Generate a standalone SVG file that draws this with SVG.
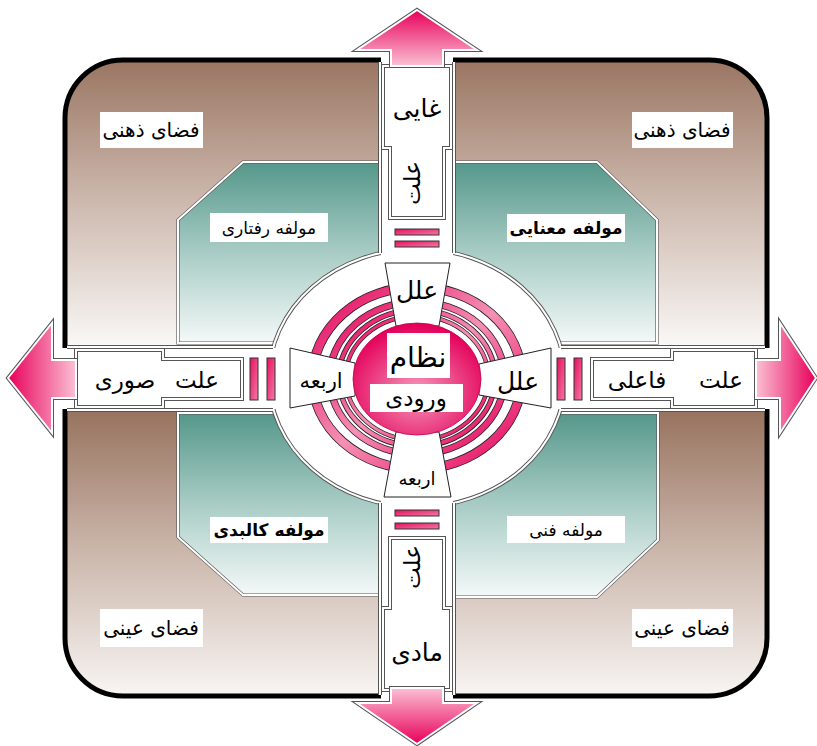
<svg xmlns="http://www.w3.org/2000/svg" width="817" height="746" viewBox="0 0 817 746">
<defs>
<style>
.t{font-family:"DejaVu Sans","Noto Sans",sans-serif;fill:#000;text-anchor:middle}
.lb{fill:#fff}
.dbl{fill:none;stroke:#555;stroke-width:4}
.dblw{fill:none;stroke:#fff;stroke-width:2}
.trap{fill:#fff;stroke:#222;stroke-width:1}
.bar{fill:url(#barG);stroke:#333;stroke-width:1}
.ringO{fill:none;stroke:#222}
.ringI{fill:none;stroke:url(#ringG)}
</style>
<linearGradient id="brown" x1="0" y1="0" x2="0" y2="1">
<stop offset="0" stop-color="#98735f"/><stop offset="0.45" stop-color="#c8b2a6"/><stop offset="1" stop-color="#faf8f7"/>
</linearGradient>
<linearGradient id="teal" x1="0" y1="0" x2="0" y2="1">
<stop offset="0" stop-color="#55978a"/><stop offset="0.5" stop-color="#a8ccc5"/><stop offset="1" stop-color="#f4f9f8"/>
</linearGradient>
<linearGradient id="aUp" x1="0" y1="0" x2="0" y2="1"><stop offset="0" stop-color="#e8005a"/><stop offset="1" stop-color="#fbc0d4"/></linearGradient>
<linearGradient id="aDown" x1="0" y1="0" x2="0" y2="1"><stop offset="0" stop-color="#fbc0d4"/><stop offset="1" stop-color="#e8005a"/></linearGradient>
<linearGradient id="aLeft" x1="0" y1="0" x2="1" y2="0"><stop offset="0" stop-color="#e8005a"/><stop offset="1" stop-color="#fbc0d4"/></linearGradient>
<linearGradient id="aRight" x1="0" y1="0" x2="1" y2="0"><stop offset="0" stop-color="#fbc0d4"/><stop offset="1" stop-color="#e8005a"/></linearGradient>
<linearGradient id="barG" x1="0" y1="0" x2="1" y2="1"><stop offset="0" stop-color="#e8105f"/><stop offset="1" stop-color="#f27aa6"/></linearGradient>
<linearGradient id="ringG" x1="0" y1="0" x2="1" y2="1"><stop offset="0" stop-color="#e4005a"/><stop offset="0.5" stop-color="#f590b4"/><stop offset="1" stop-color="#e4005a"/></linearGradient>
<radialGradient id="ballG" cx="0.5" cy="0.62" r="0.6"><stop offset="0" stop-color="#f59abc"/><stop offset="1" stop-color="#e4005a"/></radialGradient>
<clipPath id="outerClip"><rect x="65" y="60" width="702" height="636" rx="58"/></clipPath>
</defs>

<g id="frame">
<rect x="65" y="60" width="702" height="636" rx="58" fill="#fff"/>
<g clip-path="url(#outerClip)">
<rect x="60" y="55" width="320" height="292" fill="url(#brown)"/>
<rect x="454" y="55" width="320" height="292" fill="url(#brown)"/>
<rect x="60" y="410" width="320" height="292" fill="url(#brown)"/>
<rect x="454" y="410" width="320" height="292" fill="url(#brown)"/>
</g>
<rect x="65" y="60" width="702" height="636" rx="58" fill="none" stroke="#000" stroke-width="5"/>
</g>

<g id="teal-quadrants">
<g id="q-tl"><path d="M243,162 L380,162 L380,343 L178,343 L178,220 Z" fill="url(#teal)" stroke="#555" stroke-width="3.2"/><path d="M243,162 L380,162 L380,343 L178,343 L178,220 Z" fill="none" stroke="#fff" stroke-width="2"/></g>
<g id="q-tr"><path d="M454,162 L597,162 L657,220 L657,343 L454,343 Z" fill="url(#teal)" stroke="#555" stroke-width="3.2"/><path d="M454,162 L597,162 L657,220 L657,343 L454,343 Z" fill="none" stroke="#fff" stroke-width="2"/></g>
<g id="q-bl"><path d="M178,413 L380,413 L380,595 L243,595 L178,537 Z" fill="url(#teal)" stroke="#555" stroke-width="3.2"/><path d="M178,413 L380,413 L380,595 L243,595 L178,537 Z" fill="none" stroke="#fff" stroke-width="2"/></g>
<g id="q-br"><path d="M454,413 L658,413 L658,540 L597,597 L454,597 Z" fill="url(#teal)" stroke="#555" stroke-width="3.2"/><path d="M454,413 L658,413 L658,540 L597,597 L454,597 Z" fill="none" stroke="#fff" stroke-width="2"/></g>
</g>

<g id="cross">
<ellipse cx="417" cy="378" rx="148" ry="129" fill="#fff" stroke="#555" stroke-width="4"/>
<ellipse cx="417" cy="378" rx="148" ry="129" class="dblw"/>
<rect x="381" y="54" width="72" height="648" fill="#fff"/>
<rect x="58" y="348" width="716" height="61" fill="#fff"/>
<path class="dbl" d="M380,62 V253 M454,62 V253 M380,503 V695 M454,503 V695 M67,347 H273 M67,410 H273 M561,347 H765 M561,410 H765"/>
<path class="dblw" d="M380,62 V253 M454,62 V253 M380,503 V695 M454,503 V695 M67,347 H273 M67,410 H273 M561,347 H765 M561,410 H765"/>
</g>

<g id="connectors">
<path class="dbl" d="M383,66 H451 V148 H444 V218 H390 V148 H383 Z M390,538 H444 V608 H451 V690 H383 V608 H390 Z M76,350 H163 V359 H242 V399 H163 V407 H76 Z M592,359 H672 V350 H756 V407 H672 V399 H592 Z"/>
<path class="dblw" d="M383,66 H451 V148 H444 V218 H390 V148 H383 Z M390,538 H444 V608 H451 V690 H383 V608 H390 Z M76,350 H163 V359 H242 V399 H163 V407 H76 Z M592,359 H672 V350 H756 V407 H672 V399 H592 Z"/>
<rect class="bar" x="395" y="229" width="44" height="6"/>
<rect class="bar" x="395" y="241" width="44" height="6"/>
<rect class="bar" x="395" y="510" width="44" height="6"/>
<rect class="bar" x="395" y="523" width="44" height="6"/>
<rect class="bar" x="250" y="358" width="8" height="42"/>
<rect class="bar" x="267" y="358" width="8" height="42"/>
<rect class="bar" x="557" y="358" width="8" height="42"/>
<rect class="bar" x="574" y="358" width="8" height="42"/>
</g>

<g id="rings">
<ellipse cx="417" cy="378" rx="104.6" ry="91" class="ringO" stroke-width="10"/>
<ellipse cx="417" cy="378" rx="104.6" ry="91" class="ringI" stroke-width="8.4"/>
<ellipse cx="417" cy="378" rx="87.4" ry="76" class="ringO" stroke-width="7.4"/>
<ellipse cx="417" cy="378" rx="87.4" ry="76" class="ringI" stroke-width="5.8"/>
<ellipse cx="417" cy="378" rx="78.2" ry="68" class="ringO" stroke-width="5.6"/>
<ellipse cx="417" cy="378" rx="78.2" ry="68" class="ringI" stroke-width="4"/>
<ellipse cx="417" cy="378" rx="71.3" ry="62" class="ringO" stroke-width="4.4"/>
<ellipse cx="417" cy="378" rx="71.3" ry="62" class="ringI" stroke-width="3"/>
</g>

<g id="trap-top"><polygon class="trap" points="385,263 450,263 439,326 396,326"/><text class="t" x="417" y="299" font-size="25">علل</text></g>
<g id="trap-right"><polygon class="trap" points="479,364 551,348 551,408 479,395"/><text class="t" x="518" y="390" font-size="25">علل</text></g>
<g id="trap-bottom"><polygon class="trap" points="396,432 439,432 451,497 384,497"/><text class="t" x="417" y="485" font-size="18">اربعه</text></g>
<g id="trap-left"><polygon class="trap" points="290,348 355,363 355,396 290,408"/><text class="t" x="321" y="388" font-size="21">اربعه</text></g>

<g id="center">
<ellipse cx="417" cy="379" rx="64" ry="56" fill="url(#ballG)" stroke="#c0004a" stroke-width="0.8"/>
<rect class="lb" x="387" y="333" width="63" height="45"/>
<text class="t" x="418" y="367" font-size="28">نظام</text>
<rect class="lb" x="370" y="384" width="93" height="28"/>
<text class="t" x="416" y="406" font-size="23" letter-spacing="5">ورودی</text>
</g>

<g id="arrow-up"><path d="M417,10 L477,50 L443,50 L443,66 L391,66 L391,50 L357,50 Z" fill="url(#aUp)" stroke="#555" stroke-width="4" stroke-linejoin="miter"/><path d="M417,10 L477,50 L443,50 L443,66 L391,66 L391,50 L357,50 Z" fill="url(#aUp)" stroke="#fff" stroke-width="2"/></g>
<g id="arrow-down"><path d="M417,744 L477,703 L443,703 L443,688 L391,688 L391,703 L357,703 Z" fill="url(#aDown)" stroke="#555" stroke-width="4"/><path d="M417,744 L477,703 L443,703 L443,688 L391,688 L391,703 L357,703 Z" fill="url(#aDown)" stroke="#fff" stroke-width="2"/></g>
<g id="arrow-left"><path d="M8,378 L52,323 L52,360 L76,360 L76,398 L52,398 L52,433 Z" fill="url(#aLeft)" stroke="#555" stroke-width="4"/><path d="M8,378 L52,323 L52,360 L76,360 L76,398 L52,398 L52,433 Z" fill="url(#aLeft)" stroke="#fff" stroke-width="2"/></g>
<g id="arrow-right"><path d="M816,378 L780,323 L780,360 L756,360 L756,398 L780,398 L780,433 Z" fill="url(#aRight)" stroke="#555" stroke-width="4"/><path d="M816,378 L780,323 L780,360 L756,360 L756,398 L780,398 L780,433 Z" fill="url(#aRight)" stroke="#fff" stroke-width="2"/></g>

<g id="label-top"><text class="t" x="417" y="117" font-size="25">غایی</text><text class="t" font-size="23" transform="translate(413,183) rotate(-90)" x="0" y="7">علت</text></g>
<g id="label-bottom"><text class="t" font-size="23" transform="translate(413,567) rotate(-90)" x="0" y="7">علت</text><text class="t" x="417" y="661" font-size="25">مادی</text></g>
<g id="label-left"><text class="t" x="197" y="388" font-size="23">علت</text><text class="t" x="125" y="388" font-size="23">صوری</text></g>
<g id="label-right"><text class="t" x="721" y="388" font-size="23">علت</text><text class="t" x="637" y="388" font-size="23">فاعلی</text></g>

<g id="n-mind-tl"><rect class="lb" x="100" y="112" width="103" height="36"/><text class="t" x="151" y="137" font-size="20">فضای ذهنی</text></g>
<g id="n-mind-tr"><rect class="lb" x="632" y="112" width="101" height="36"/><text class="t" x="682" y="137" font-size="20">فضای ذهنی</text></g>
<g id="n-obj-bl"><rect class="lb" x="100" y="609" width="103" height="38"/><text class="t" x="151" y="635" font-size="20">فضای عینی</text></g>
<g id="n-obj-br"><rect class="lb" x="632" y="609" width="101" height="38"/><text class="t" x="682" y="635" font-size="20">فضای عینی</text></g>
<g id="n-behav"><rect class="lb" x="210" y="213" width="118" height="29"/><text class="t" x="269" y="234" font-size="17">مولفه رفتاری</text></g>
<g id="n-mean"><rect class="lb" x="507" y="214" width="118" height="28"/><text class="t" x="566" y="234" font-size="17" font-weight="bold">مولفه معنایی</text></g>
<g id="n-phys"><rect class="lb" x="210" y="517" width="118" height="26"/><text class="t" x="269" y="536" font-size="17" font-weight="bold">مولفه کالبدی</text></g>
<g id="n-tech"><rect class="lb" x="507" y="516" width="118" height="27"/><text class="t" x="566" y="536" font-size="17">مولفه فنی</text></g>
</svg>
